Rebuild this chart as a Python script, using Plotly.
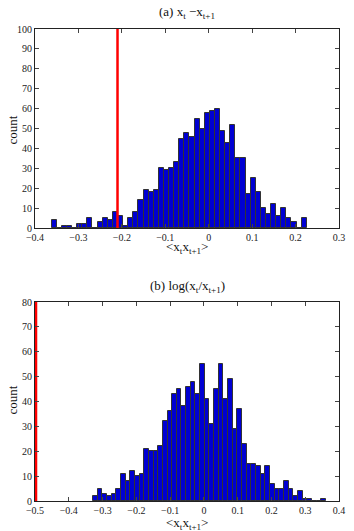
import plotly.graph_objects as go

# histogram (a): x_t - x_{t+1}
a_start = -0.3558
a_width = 0.01175
a_counts = [4, 0, 1, 1, 0, 2, 2, 5, 0, 3, 5, 4, 8, 6, 1, 5, 8, 14, 19, 18,
            19, 30, 29, 30, 33, 45, 48, 46, 55, 50, 58, 59, 60, 49, 43, 52, 35, 35, 17, 25,
            18, 10, 7, 12, 6, 10, 5, 3, 0, 5]
a_marker = -0.210
a_xticks = [-0.4, -0.3, -0.2, -0.1, 0, 0.1, 0.2, 0.3]
a_xlabels = ["\u22120.4", "\u22120.3", "\u22120.2", "\u22120.1", "0", "0.1", "0.2", "0.3"]
a_yticks = [0, 10, 20, 30, 40, 50, 60, 70, 80, 90, 100]

# histogram (b): log(x_t / x_{t+1})
b_start = -0.3216
b_width = 0.0138
b_counts = [2, 5, 3, 2, 3, 5, 11, 8, 12, 10, 11, 21, 20, 20, 22, 32, 36, 43, 45, 38,
            46, 48, 43, 55, 41, 31, 45, 55, 41, 49, 29, 37, 23, 15, 15, 14, 11, 14, 7, 5,
            5, 8, 5, 2, 4, 1, 1, 0, 0, 1]
b_marker = -0.497
b_xticks = [-0.5, -0.4, -0.3, -0.2, -0.1, 0, 0.1, 0.2, 0.3, 0.4]
b_xlabels = ["\u22120.5", "\u22120.4", "\u22120.3", "\u22120.2", "\u22120.1", "0", "0.1", "0.2", "0.3", "0.4"]
b_yticks = [0, 10, 20, 30, 40, 50, 60, 70, 80]

serif = "Liberation Serif, Times New Roman, serif"
bar_color = "#0000d2"
edge_color = "#333333"

fig = go.Figure()

fig.add_trace(go.Bar(x0=a_start, dx=a_width, y=a_counts, marker_color=bar_color,
                     marker_line=dict(color=edge_color, width=1),
                     xaxis="x", yaxis="y", showlegend=False))
fig.add_trace(go.Scatter(x=[a_marker, a_marker], y=[a_yticks[0], a_yticks[-1]], mode="lines",
                         line=dict(color="red", width=2.5), xaxis="x", yaxis="y", showlegend=False))

fig.add_trace(go.Bar(x0=b_start, dx=b_width, y=b_counts, marker_color=bar_color,
                     marker_line=dict(color=edge_color, width=1),
                     xaxis="x2", yaxis="y2", showlegend=False))
fig.add_trace(go.Scatter(x=[b_marker, b_marker], y=[b_yticks[0], b_yticks[-1]], mode="lines",
                         line=dict(color="red", width=2.5), xaxis="x2", yaxis="y2", showlegend=False))

axis_style = dict(showline=True, linecolor="#222", linewidth=1, mirror="ticks",
                  ticks="inside", ticklen=4, tickcolor="#444", showgrid=False, zeroline=False,
                  ticklabeloverflow="allow",
                  tickfont=dict(family=serif, size=10, color="#222"))

# the page body keeps its default 8px margin, so the figure is 8px smaller
fig.update_layout(
    width=346, height=523,
    margin=dict(l=26, r=9, t=21, b=30),
    plot_bgcolor="white", paper_bgcolor="white",
    bargap=0,
    xaxis=dict(range=[-0.4, 0.3], tickvals=a_xticks, ticktext=a_xlabels, anchor="y", **axis_style),
    yaxis=dict(range=[0, 100], tickvals=a_yticks, domain=[0.578, 1], anchor="x", **axis_style),
    xaxis2=dict(range=[-0.5, 0.4], tickvals=b_xticks, ticktext=b_xlabels, anchor="y2", **axis_style),
    yaxis2=dict(range=[0, 80], tickvals=b_yticks, domain=[0, 0.4216], anchor="x2", **axis_style),
)

title_font = dict(family=serif, size=13, color="#111")
xlab = "&lt;x<sub>t</sub>x<sub>t+1</sub>&gt;"
annotations = [
    dict(text="(a) x<sub>t</sub> \u2212x<sub>t+1</sub>", x=0.5, y=1.034),
    dict(text="(b) log(x<sub>t</sub>/x<sub>t+1</sub>)", x=0.5, y=0.4555),
    dict(text=xlab, x=0.5, y=0.537),
    dict(text=xlab, x=0.5, y=-0.047),
    dict(text="count", x=-0.074, y=0.786, textangle=-90),
    dict(text="count", x=-0.074, y=0.214, textangle=-90),
]
for ann in annotations:
    ann.update(xref="paper", yref="paper", xanchor="center", yanchor="middle",
               showarrow=False, font=title_font)
fig.update_layout(annotations=annotations)

fig.write_html("out.html")
